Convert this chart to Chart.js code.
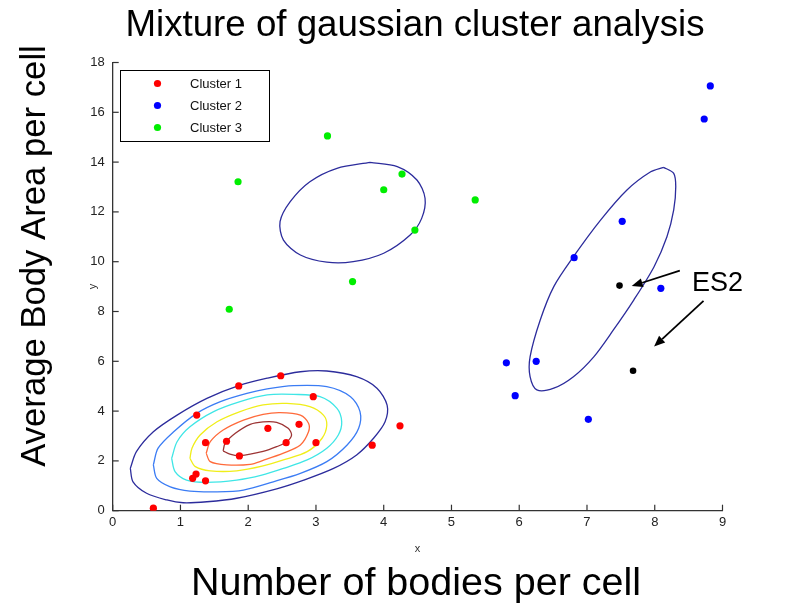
<!DOCTYPE html>
<html><head><meta charset="utf-8">
<script src="https://cdn.jsdelivr.net/npm/chart.js@4/dist/chart.umd.min.js"></script>
<style>html,body{margin:0;padding:0;background:#fff}canvas{display:block}</style>
</head><body>
<canvas id="c" width="793" height="603"></canvas>
<script>
// ---------- DATA ----------
const xTickValues = [0,1,2,3,4,5,6,7,8,9];
const yTickValues = [0,2,4,6,8,10,12,14,16,18];
const legendLabels = ['Cluster 1','Cluster 2','Cluster 3'];

const cluster1 = [[0.60,0.10],[1.24,3.84],[1.86,5.01],[2.48,5.42],[2.96,4.58],[1.37,2.73],[1.68,2.79],[2.29,3.31],[2.75,3.47],[2.56,2.73],[3.00,2.73],[1.87,2.20],[1.23,1.47],[1.18,1.30],[1.37,1.20],[3.83,2.63],[4.24,3.41]];
const cluster2 = [[8.82,17.06],[8.73,15.73],[7.52,11.62],[6.81,10.16],[8.09,8.93],[5.81,5.94],[6.25,6.00],[5.94,4.62],[7.02,3.67]];
const cluster3 = [[3.17,15.05],[1.85,13.21],[4.27,13.52],[4.00,12.89],[5.35,12.48],[4.46,11.27],[3.54,9.20],[1.72,8.09]];
const es2Points = [[7.48,9.04],[7.68,5.62]];

// contour lines of cluster 1 (outer -> inner)
const c1Level1 = [[0.26,1.70],[0.35,2.37],[0.60,3.17],[0.95,3.84],[1.39,4.51],[1.86,5.02],[2.28,5.32],[2.77,5.58],[3.16,5.61],[3.60,5.38],[3.90,4.92],[4.05,4.24],[4.02,3.57],[3.85,2.91],[3.60,2.24],[3.26,1.70],[2.82,1.23],[2.42,0.88],[1.83,0.50],[1.39,0.36],[1.04,0.32],[0.80,0.43],[0.50,0.70],[0.30,1.16],[0.26,1.70]];
const c1Level2 = [[0.60,1.84],[0.67,2.51],[0.90,3.17],[1.24,3.91],[1.59,4.38],[1.98,4.71],[2.28,4.89],[2.67,5.02],[3.16,4.98],[3.51,4.58],[3.65,3.98],[3.63,3.31],[3.46,2.64],[3.16,1.97],[2.77,1.50],[2.37,1.16],[1.93,0.83],[1.54,0.76],[1.14,0.79],[0.85,0.96],[0.65,1.30],[0.60,1.84]];
const c1Level3 = [[0.87,2.10],[0.95,2.77],[1.14,3.37],[1.49,3.98],[1.88,4.38],[2.28,4.65],[2.67,4.67],[3.06,4.58],[3.31,4.11],[3.38,3.57],[3.33,3.04],[3.16,2.51],[2.87,2.04],[2.52,1.70],[2.20,1.43],[1.83,1.23],[1.39,1.14],[1.09,1.23],[0.92,1.57],[0.87,2.10]];
const c1Level4 = [[1.14,2.10],[1.17,2.51],[1.29,3.04],[1.54,3.57],[1.88,3.98],[2.22,4.25],[2.57,4.31],[2.91,4.18],[3.11,3.84],[3.16,3.44],[3.09,2.91],[2.87,2.37],[2.52,2.04],[2.22,1.80],[1.83,1.60],[1.44,1.60],[1.22,1.77],[1.14,2.10]];
const c1Level5 = [[1.38,2.31],[1.44,2.77],[1.63,3.24],[1.93,3.64],[2.22,3.87],[2.47,3.94],[2.77,3.84],[2.89,3.51],[2.89,3.17],[2.77,2.64],[2.52,2.31],[2.22,2.02],[2.03,1.86],[1.68,1.84],[1.44,1.97],[1.38,2.31]];
const c1Level6 = [[1.63,2.40],[1.66,2.71],[1.81,3.11],[2.03,3.47],[2.22,3.57],[2.42,3.55],[2.59,3.31],[2.64,3.04],[2.57,2.77],[2.42,2.57],[2.22,2.38],[1.88,2.21],[1.73,2.27],[1.63,2.40]];
const c2Contour = [[8.13,13.79],[8.28,13.55],[8.31,13.01],[8.28,12.08],[8.18,11.00],[7.99,9.80],[7.69,8.46],[7.39,7.26],[7.10,6.18],[6.80,5.38],[6.51,4.92],[6.26,4.85],[6.16,5.38],[6.16,6.18],[6.31,7.66],[6.51,9.00],[6.80,10.20],[7.20,11.67],[7.59,12.88],[7.94,13.61],[8.13,13.79]];
const c3Contour = [[3.80,13.99],[4.20,13.82],[4.49,13.28],[4.61,12.55],[4.56,11.74],[4.39,11.07],[4.00,10.34],[3.55,10.00],[3.16,9.98],[2.77,10.27],[2.52,10.87],[2.47,11.61],[2.62,12.41],[2.91,13.21],[3.31,13.75],[3.80,13.99]];

// ES2 annotation: label anchor and arrows [from, to] in data units
const es2Label = {text:'ES2', at:[8.55,8.84]};
const es2Arrows = [[[8.37,9.64],[7.66,9.02]], [[8.72,8.43],[7.99,6.59]]];

// ---------- STYLES ----------
const FONT = "'Liberation Sans', Arial, Helvetica, sans-serif";
const clusterColors = ['#ff0000','#0000ff','#00ee00'];
const levelColors = ['#2c2c9c','#3b7cf4','#3fe6e6','#f0ee1a','#ff6a3a','#9c3434'];
const toPts = a => a.map(p => ({x:p[0], y:p[1]}));

const lineDs = (data, color) => ({
  type:'scatter', data:toPts(data), showLine:true, borderColor:color, borderWidth:1.3,
  pointRadius:0, tension:0.3, fill:false, order:2
});

const datasets = [
  {label:legendLabels[0], data:toPts(cluster1), backgroundColor:clusterColors[0], borderColor:clusterColors[0], pointRadius:3.6, pointBorderWidth:0, order:0},
  {label:legendLabels[1], data:toPts(cluster2), backgroundColor:clusterColors[1], borderColor:clusterColors[1], pointRadius:3.6, pointBorderWidth:0, order:0},
  {label:legendLabels[2], data:toPts(cluster3), backgroundColor:clusterColors[2], borderColor:clusterColors[2], pointRadius:3.6, pointBorderWidth:0, order:0},
  {label:'ES2', data:toPts(es2Points), backgroundColor:'#000', borderColor:'#000', pointRadius:3.3, pointBorderWidth:0, order:0},
  lineDs(c1Level1, levelColors[0]),
  lineDs(c1Level2, levelColors[1]),
  lineDs(c1Level3, levelColors[2]),
  lineDs(c1Level4, levelColors[3]),
  lineDs(c1Level5, levelColors[4]),
  lineDs(c1Level6, levelColors[5]),
  lineDs(c2Contour, levelColors[0]),
  lineDs(c3Contour, levelColors[0])
];

// ---------- PLUGINS ----------
function fitText(ctx, text, width){
  ctx.font = '100px ' + FONT;
  return 100 * width / ctx.measureText(text).width;
}

const inwardTicks = {
  id:'inwardTicks',
  beforeDatasetsDraw(chart){
    const ctx = chart.ctx, xs = chart.scales.x, ys = chart.scales.y, a = chart.chartArea;
    ctx.save();
    ctx.strokeStyle = '#333'; ctx.lineWidth = 1.2;
    xTickValues.forEach(v => {
      const px = xs.getPixelForValue(v);
      ctx.beginPath(); ctx.moveTo(px, a.bottom); ctx.lineTo(px, a.bottom - 6); ctx.stroke();
    });
    yTickValues.forEach(v => {
      const py = ys.getPixelForValue(v);
      ctx.beginPath(); ctx.moveTo(a.left, py); ctx.lineTo(a.left + 6, py); ctx.stroke();
    });
    ctx.restore();
  }
};

const decorations = {
  id:'decorations',
  afterDraw(chart){
    const ctx = chart.ctx, xs = chart.scales.x, ys = chart.scales.y, a = chart.chartArea;
    ctx.save();
    ctx.fillStyle = '#000';
    // title
    let s = fitText(ctx, 'Mixture of gaussian cluster analysis', 580);
    ctx.font = s.toFixed(1) + 'px ' + FONT;
    ctx.textAlign = 'center'; ctx.textBaseline = 'alphabetic';
    ctx.fillText('Mixture of gaussian cluster analysis', 415, 36);
    // x label (big)
    s = fitText(ctx, 'Number of bodies per cell', 450);
    ctx.font = s.toFixed(1) + 'px ' + FONT;
    ctx.fillText('Number of bodies per cell', 416, 595);
    // y label (big, rotated)
    s = fitText(ctx, 'Average Body Area per cell', 422);
    ctx.save();
    ctx.translate(45, 256); ctx.rotate(-Math.PI/2);
    ctx.font = s.toFixed(1) + 'px ' + FONT;
    ctx.fillText('Average Body Area per cell', 0, 0);
    ctx.restore();
    // small matlab axis labels
    ctx.fillStyle = '#333';
    ctx.font = '11px ' + FONT;
    ctx.fillText('x', (a.left + a.right)/2, 552);
    ctx.save();
    ctx.translate(96, (a.top + a.bottom)/2); ctx.rotate(-Math.PI/2);
    ctx.fillText('y', 0, 0);
    ctx.restore();
    // legend box
    ctx.fillStyle = '#fff';
    ctx.fillRect(120.5, 70.5, 149, 71);
    ctx.strokeStyle = '#000'; ctx.lineWidth = 1;
    ctx.strokeRect(120.5, 70.5, 149, 71);
    ctx.font = '13px ' + FONT; ctx.textAlign = 'left'; ctx.textBaseline = 'middle';
    legendLabels.forEach((lab, i) => {
      const cy = 83.5 + i * 22;
      ctx.fillStyle = clusterColors[i];
      ctx.beginPath(); ctx.arc(157.5, cy, 3.6, 0, Math.PI*2); ctx.fill();
      ctx.fillStyle = '#111';
      ctx.fillText(lab, 190, cy + 0.5);
    });
    // ES2 annotation
    ctx.fillStyle = '#000';
    ctx.font = '27px ' + FONT; ctx.textAlign = 'left'; ctx.textBaseline = 'alphabetic';
    ctx.fillText(es2Label.text, xs.getPixelForValue(es2Label.at[0]), ys.getPixelForValue(es2Label.at[1]));
    ctx.strokeStyle = '#000'; ctx.lineWidth = 1.8;
    es2Arrows.forEach(([from, to]) => {
      const x1 = xs.getPixelForValue(from[0]), y1 = ys.getPixelForValue(from[1]);
      const x2 = xs.getPixelForValue(to[0]), y2 = ys.getPixelForValue(to[1]);
      const ang = Math.atan2(y2 - y1, x2 - x1), L = 11, W = 4.5;
      const bx = x2 - L*Math.cos(ang), by = y2 - L*Math.sin(ang);
      ctx.beginPath(); ctx.moveTo(x1, y1); ctx.lineTo(bx, by); ctx.stroke();
      ctx.beginPath();
      ctx.moveTo(x2, y2);
      ctx.lineTo(bx + W*Math.sin(ang), by - W*Math.cos(ang));
      ctx.lineTo(bx - W*Math.sin(ang), by + W*Math.cos(ang));
      ctx.closePath(); ctx.fill();
    });
    ctx.restore();
  }
};

// ---------- CHART ----------
const tickFont = {family: FONT, size: 13};
new Chart(document.getElementById('c'), {
  type:'scatter',
  data:{datasets},
  options:{
    responsive:false, animation:false, devicePixelRatio:1,
    layout:{padding:{left:0, right:70.5, top:62.5, bottom:0}},
    plugins:{legend:{display:false}, tooltip:{enabled:false}, title:{display:false}},
    scales:{
      x:{
        type:'linear', min:0, max:9,
        afterBuildTicks: sc => { sc.ticks = xTickValues.map(v => ({value:v})); },
        afterFit: sc => { sc.height = 92.3; },
        ticks:{font:tickFont, color:'#222', padding:4, maxRotation:0, autoSkip:false},
        grid:{display:false, drawTicks:false},
        border:{display:true, color:'#333', width:1.3}
      },
      y:{
        type:'linear', min:0, max:18,
        afterBuildTicks: sc => { sc.ticks = yTickValues.map(v => ({value:v})); },
        afterFit: sc => { sc.width = 112.7; },
        ticks:{font:tickFont, color:'#222', padding:8, autoSkip:false},
        grid:{display:false, drawTicks:false},
        border:{display:true, color:'#333', width:1.3}
      }
    }
  },
  plugins:[inwardTicks, decorations]
});
</script>
</body></html>
